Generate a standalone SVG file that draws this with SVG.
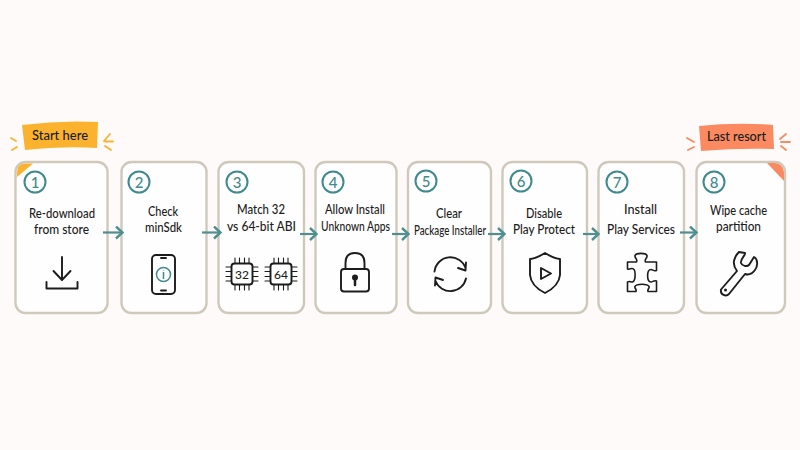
<svg xmlns="http://www.w3.org/2000/svg" width="800" height="450" viewBox="0 0 800 450">
<style>
.card{fill:#fffefe;stroke:#cfc9bc;stroke-width:2.4}
.badge{fill:none;stroke:#3f8a8c;stroke-width:2}
.num{font-family:"Lato","Liberation Sans",sans-serif;font-size:15px;fill:#3f8a8c;text-anchor:middle;font-weight:500}
.t{font-family:"Lato","Liberation Sans",sans-serif;font-size:13px;font-weight:500;fill:#1c1c1c;text-anchor:middle}
.i{fill:none;stroke:#1c1c1c;stroke-width:1.9;stroke-linecap:round;stroke-linejoin:round}
.thin{stroke-width:1.1}
.c{fill:none;stroke:#4f8f90;stroke-width:2.2}
.ray{fill:none;stroke-width:1.8;stroke-linecap:round}
</style>
<defs>
<marker id="a" markerWidth="10" markerHeight="14" refX="7" refY="7" orient="auto" markerUnits="userSpaceOnUse"><path d="M1 1 L7.500 7 L1 13" fill="none" stroke="#4f8f90" stroke-width="2.4"/></marker>
<g id="chip"><rect x="-10.500" y="-10.500" width="21" height="21" rx="3" class="i"/><path class="i thin" d="M-7-11V-16M-2.500-11V-16M2.500-11V-16M7-11V-16M-7 11V16M-2.500 11V16M2.500 11V16M7 11V16M-11-7H-16M-11-2.500H-16M-11 2.500H-16M-11 7H-16M11-7H16M11-2.500H16M11 2.500H16M11 7H16"/></g>
</defs>
<rect width="800" height="450" fill="#fffafa"/>
<g id="start-here">
<path d="M22 125Q60 120 98 122L97 148Q60 146 25 150Z" fill="#fbb32f"/>
<text class="t" x="60" y="140" textLength="56" lengthAdjust="spacingAndGlyphs">Start here</text>
<path class="ray" stroke="#fbb32f" d="M11 138L16 141M12 150L17 147M104 141L110 134M105 141.500H113M105 146L111 150"/>
</g>
<g id="last-resort">
<path d="M699 126Q737 122 773 125L774 149Q737 148 701 151Z" fill="#fb8a60"/>
<text class="t" x="736.500" y="141" textLength="59" lengthAdjust="spacingAndGlyphs">Last resort</text>
<path class="ray" stroke="#fb8a60" d="M687 138L694 142M688 150L694 147M780 139L786 134M781 142H790M781 146L786 150"/>
</g>
<g id="step-1">
<rect class="card" x="15.500" y="162" width="92" height="151" rx="10"/>
<path d="M17 177V172Q17 164 25 163.500H33Z" fill="#fbb32f"/>
<circle class="badge" cx="35" cy="182" r="10.500"/><text class="num" x="35" y="187.500">1</text>
<text class="t" x="62" y="218" textLength="66" lengthAdjust="spacingAndGlyphs">Re-download</text><text class="t" x="61.500" y="234" textLength="55" lengthAdjust="spacingAndGlyphs">from store</text>
<path class="i" d="M62 257V279M53.500 271L62 280L70.500 271M46.500 282V288.500H77.500V282"/>
</g>
<g id="step-2">
<rect class="card" x="121.500" y="162" width="85" height="151" rx="10"/>
<circle class="badge" cx="139" cy="182" r="10.500"/><text class="num" x="139" y="187.500">2</text>
<text class="t" x="163" y="216" textLength="30" lengthAdjust="spacingAndGlyphs">Check</text><text class="t" x="163.500" y="232" textLength="37" lengthAdjust="spacingAndGlyphs">minSdk</text>
<rect class="i" x="152" y="255" width="23" height="39" rx="4"/>
<path class="i" d="M161 258H166M161 290.500H166"/>
<circle class="badge" cx="163.500" cy="274.500" r="7" style="stroke-width:1.500"/>
<path class="badge" style="stroke-width:1.500" d="M163.500 272V279M163.500 270V270.500"/>
</g>
<g id="step-3">
<rect class="card" x="218.500" y="162" width="85.500" height="151" rx="10"/>
<circle class="badge" cx="237" cy="182" r="10.500"/><text class="num" x="237" y="187.500">3</text>
<text class="t" x="261" y="214" textLength="48" lengthAdjust="spacingAndGlyphs">Match 32</text><text class="t" x="261.500" y="231" textLength="69" lengthAdjust="spacingAndGlyphs">vs 64-bit ABI</text>
<use href="#chip" x="242" y="274"/><text class="t" x="242" y="279" style="font-size:12px">32</text>
<use href="#chip" x="281" y="274"/><text class="t" x="281" y="279" style="font-size:12px">64</text>
</g>
<g id="step-4">
<rect class="card" x="315.500" y="162" width="81" height="151" rx="10"/>
<circle class="badge" cx="333" cy="182" r="10.500"/><text class="num" x="333" y="187.500">4</text>
<text class="t" x="355" y="214" textLength="60" lengthAdjust="spacingAndGlyphs">Allow Install</text><text class="t" x="355.500" y="231" textLength="69" lengthAdjust="spacingAndGlyphs">Unknown Apps</text>
<rect class="i" x="341" y="269" width="28" height="22.500" rx="3"/>
<path class="i" d="M345.500 269V263Q345.500 253 355 253Q364.500 253 364.500 263V269"/>
<circle cx="355" cy="277.500" r="3" fill="#1c1c1c"/><path d="M355 278V285" stroke="#1c1c1c" stroke-width="2.500" stroke-linecap="round"/>
</g>
<g id="step-5">
<rect class="card" x="408" y="162" width="83" height="151" rx="10"/>
<circle class="badge" cx="426" cy="181" r="10.500"/><text class="num" x="426" y="186.500">5</text>
<text class="t" x="449" y="218" textLength="26" lengthAdjust="spacingAndGlyphs">Clear</text><text class="t" x="450" y="235" textLength="72" lengthAdjust="spacingAndGlyphs">Package Installer</text>
<path class="i" d="M434.500 271.500A16 16 0 0 1 465.500 268M466 278.500A16 16 0 0 1 435.500 281M466 262.500L465.500 270.500L458 268M435 285.500L435.500 277.500L443 280"/>
</g>
<g id="step-6">
<rect class="card" x="502.500" y="162" width="84.500" height="151" rx="10"/>
<circle class="badge" cx="521" cy="181" r="10.500"/><text class="num" x="521" y="186.500">6</text>
<text class="t" x="544" y="218" textLength="36" lengthAdjust="spacingAndGlyphs">Disable</text><text class="t" x="544" y="234" textLength="62" lengthAdjust="spacingAndGlyphs">Play Protect</text>
<path class="i" d="M545 253Q535 259 530 259V275Q531 286 545 293Q559 286 560 275V259Q555 259 545 253Z"/>
<path class="i" d="M541 268V279L551 273.500Z"/>
</g>
<g id="step-7">
<rect class="card" x="598.500" y="162" width="85.500" height="151" rx="10"/>
<circle class="badge" cx="617" cy="182" r="10.500"/><text class="num" x="617" y="187.500">7</text>
<text class="t" x="640.500" y="214" textLength="33" lengthAdjust="spacingAndGlyphs">Install</text><text class="t" x="641" y="234" textLength="68" lengthAdjust="spacingAndGlyphs">Play Services</text>
<path class="i" style="stroke-width:1.600" d="M627.500 262H636.500C638 259 634.500 258 635 256C635.500 252.500 646.500 252.500 647 256C647.500 258 644 259 645.500 262H656.500V270.500C653.500 271.500 653 269.500 651 269.500C646.500 269.500 646.500 282 651 282C653 282 653.500 280 656.500 281V291.500H648C647 289 650 288 649 286.500C647.500 283.500 636.500 283.500 635 286.500C634 288 637 289 636 291.500H627.500V282C630 280.500 630.500 282.500 632.500 282C636 281 636 269 632.500 268.500C630.500 268 630 270 627.500 269Z"/>
</g>
<g id="step-8">
<rect class="card" x="696.500" y="162" width="88.500" height="151" rx="10"/>
<path d="M767 163H775Q783 164 784 172V181Z" fill="#fb8a60"/>
<circle class="badge" cx="714" cy="182" r="10.500"/><text class="num" x="714" y="187.500">8</text>
<text class="t" x="738.500" y="215" textLength="57" lengthAdjust="spacingAndGlyphs">Wipe cache</text><text class="t" x="738.500" y="231" textLength="45" lengthAdjust="spacingAndGlyphs">partition</text>
<path class="i" d="M739 252L745 253C746 255 740 259 741 263C742 266 747 267 749 265L754 257C758 259 758 266 755 270C752 274 748 275 745 274L729 294C726 297 720 295 721 289.500L737 271C734 267 733 262 735 258C736 255 738 253 739 252Z"/>
<circle cx="725.500" cy="290" r="1.500" fill="#1c1c1c"/>
</g>
<g id="connectors">
<path class="c" marker-end="url(#a)" d="M103 232.500H122"/>
<path class="c" marker-end="url(#a)" d="M202 232.500H220"/>
<path class="c" marker-end="url(#a)" d="M300 234H316"/>
<path class="c" marker-end="url(#a)" d="M392 234H408"/>
<path class="c" marker-end="url(#a)" d="M488 234H504"/>
<path class="c" marker-end="url(#a)" d="M583 234H598"/>
<path class="c" marker-end="url(#a)" d="M680 232.500H696"/>
</g>
</svg>
